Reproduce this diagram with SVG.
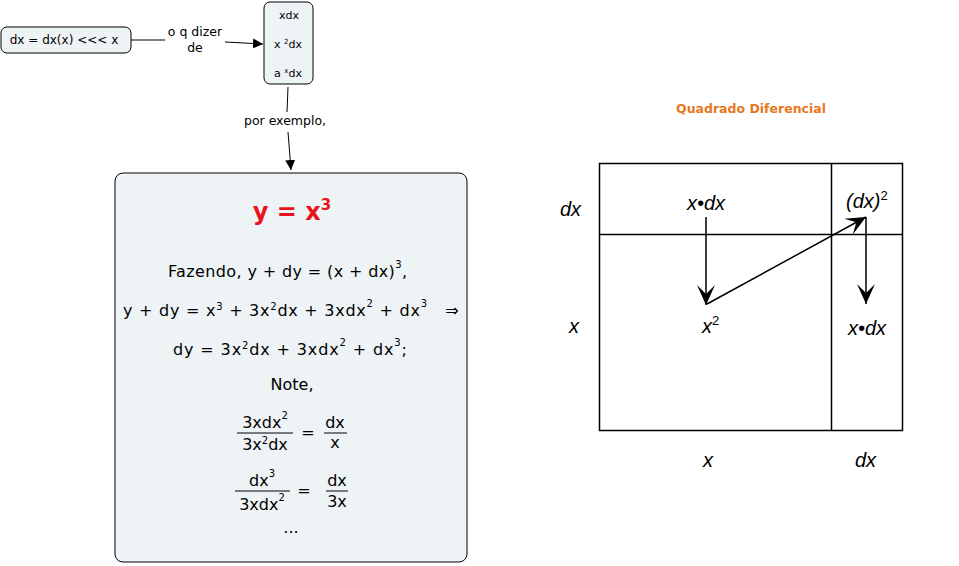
<svg xmlns="http://www.w3.org/2000/svg" width="959" height="566" viewBox="0 0 959 566">
<defs>
<style>
.node{fill:#eef3f5;stroke:#000;stroke-width:1}
.t{font-family:"DejaVu Sans",Verdana,sans-serif;font-size:12px;fill:#000}
.lbl{font-family:"DejaVu Sans",Verdana,sans-serif;font-size:12.5px;fill:#000}
.m{font-family:"DejaVu Sans",Verdana,sans-serif;font-size:16px;fill:#000}
.i{font-family:"Liberation Sans",Arial,sans-serif;font-style:italic;font-size:20px;fill:#000}
.conn{stroke:#000;stroke-width:1;fill:none}
.sq{stroke:#000;stroke-width:1.5;fill:none}
</style>
<marker id="ah" markerUnits="userSpaceOnUse" markerWidth="12" markerHeight="10" refX="10" refY="5" orient="auto"><path d="M0,0 L10,5 L0,10 Z" fill="#000"/></marker>
<marker id="bh" markerUnits="userSpaceOnUse" markerWidth="22" markerHeight="20" refX="20" refY="10" orient="auto"><path d="M0,1 L20,10 L0,19 L9,10 Z" fill="#000"/></marker>
</defs>
<rect width="959" height="566" fill="#fff"/>

<g id="connectors">
<line class="conn" x1="131" y1="40" x2="165" y2="40"/>
<text class="lbl" x="195" y="36" text-anchor="middle">o q dizer</text>
<text class="lbl" x="195" y="52" text-anchor="middle">de</text>
<line class="conn" x1="225" y1="42" x2="263" y2="44" marker-end="url(#ah)"/>
<line class="conn" x1="288" y1="87" x2="287" y2="112"/>
<text class="lbl" x="285" y="125" text-anchor="middle">por exemplo,</text>
<line class="conn" x1="288" y1="132" x2="291" y2="170" marker-end="url(#ah)"/>
</g>

<g id="node-dx">
<rect class="node" x="1" y="27" width="130" height="26" rx="6"/>
<text class="t" x="64" y="44" text-anchor="middle">dx = dx(x) &lt;&lt;&lt; x</text>
</g>

<g id="node-list">
<rect class="node" x="264" y="2" width="49" height="82" rx="6"/>
<text class="t" x="289" y="19" text-anchor="middle" style="font-size:11px">xdx</text>
<text class="t" x="288" y="48" text-anchor="middle" style="font-size:11px">x <tspan font-size="7" dy="-4">2</tspan><tspan dy="4">dx</tspan></text>
<text class="t" x="288" y="77" text-anchor="middle" style="font-size:11px">a <tspan font-size="7" dy="-4">x</tspan><tspan dy="4">dx</tspan></text>
</g>

<g id="node-main">
<rect class="node" x="115" y="173" width="352" height="389" rx="8"/>
<text x="292" y="220" text-anchor="middle" style="font-family:'DejaVu Sans',Verdana,sans-serif;font-weight:bold;font-size:24px;fill:#e8141b">y = x<tspan font-size="15" dy="-10">3</tspan></text>
<text class="m" x="168" y="277" textLength="239" lengthAdjust="spacing">Fazendo, y + dy =  (x + dx)<tspan font-size="10" dy="-9">3</tspan><tspan dy="9">,</tspan></text>
<text class="m" x="123" y="316" textLength="304" lengthAdjust="spacing">y + dy =  x<tspan font-size="10" dy="-6">3</tspan><tspan dy="6"> + 3x</tspan><tspan font-size="10" dy="-6">2</tspan><tspan dy="6">dx + 3xdx</tspan><tspan font-size="10" dy="-9">2</tspan><tspan dy="9"> + dx</tspan><tspan font-size="10" dy="-9">3</tspan></text>
<text class="m" x="452" y="316" text-anchor="middle">⇒</text>
<text class="m" x="173" y="355" textLength="234" lengthAdjust="spacing">dy =  3x<tspan font-size="10" dy="-6">2</tspan><tspan dy="6">dx + 3xdx</tspan><tspan font-size="10" dy="-9">2</tspan><tspan dy="9"> + dx</tspan><tspan font-size="10" dy="-9">3</tspan><tspan dy="9">;</tspan></text>
<text class="m" x="292" y="390" text-anchor="middle">Note,</text>
<text class="m" x="265" y="428" text-anchor="middle">3xdx<tspan font-size="10" dy="-9">2</tspan></text>
<line class="conn" x1="237" y1="433" x2="293" y2="433"/>
<text class="m" x="265" y="450" text-anchor="middle">3x<tspan font-size="10" dy="-6">2</tspan><tspan dy="6">dx</tspan></text>
<text class="m" x="308" y="438" text-anchor="middle">=</text>
<text class="m" x="335" y="428" text-anchor="middle">dx</text>
<line class="conn" x1="324" y1="433" x2="347" y2="433"/>
<text class="m" x="335" y="448" text-anchor="middle">x</text>
<text class="m" x="262" y="486" text-anchor="middle">dx<tspan font-size="10" dy="-9">3</tspan></text>
<line class="conn" x1="235" y1="491" x2="290" y2="491"/>
<text class="m" x="262" y="510" text-anchor="middle">3xdx<tspan font-size="10" dy="-9">2</tspan></text>
<text class="m" x="304" y="496" text-anchor="middle">=</text>
<text class="m" x="337" y="486" text-anchor="middle">dx</text>
<line class="conn" x1="326" y1="491" x2="348" y2="491"/>
<text class="m" x="337" y="507" text-anchor="middle">3x</text>
<text class="m" x="291" y="533" text-anchor="middle">...</text>
</g>

<g id="quadrado">
<text x="751" y="113" text-anchor="middle" style="font-family:'DejaVu Sans',Verdana,sans-serif;font-weight:bold;font-size:12.5px;fill:#e87722">Quadrado Diferencial</text>
<rect class="sq" x="599.5" y="163.5" width="303" height="267"/>
<line class="sq" x1="831.5" y1="163" x2="831.5" y2="431"/>
<line class="sq" x1="599" y1="234.5" x2="903" y2="234.5"/>
<text class="i" x="560" y="216">dx</text>
<text class="i" x="569" y="333">x</text>
<text class="i" x="703" y="467">x</text>
<text class="i" x="855" y="467">dx</text>
<text class="i" x="706" y="210" text-anchor="middle">x•dx</text>
<text class="i" x="846" y="208">(dx)<tspan font-size="13" dy="-8" font-style="normal">2</tspan></text>
<text class="i" x="702" y="333">x<tspan font-size="13" dy="-8" font-style="normal">2</tspan></text>
<text class="i" x="867" y="335" text-anchor="middle">x•dx</text>
<line class="sq" x1="706" y1="217" x2="706" y2="305" marker-end="url(#bh)"/>
<line class="sq" x1="707" y1="304" x2="866" y2="217" marker-end="url(#bh)"/>
<line class="sq" x1="866" y1="217" x2="866" y2="304" marker-end="url(#bh)"/>
</g>
</svg>
